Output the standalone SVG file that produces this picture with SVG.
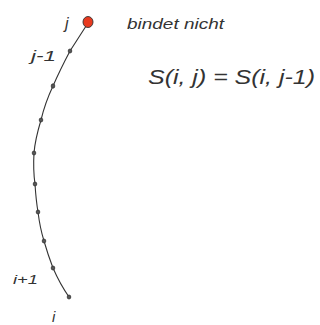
<svg xmlns="http://www.w3.org/2000/svg" width="320" height="325" viewBox="0 0 320 325">
<style>
.lbl{font-family:"Liberation Sans",Arial,sans-serif;font-style:italic;fill:#333;}
.dot{fill:#555;stroke:#333;stroke-width:0.8;}
.curve{fill:none;stroke:#333;stroke-width:1.1;}
</style>
<rect width="320" height="325" fill="#fff"/>
<g id="connectors">
<path class="curve" d="M88,23 L70,51 Q60,70 53,86 Q45,103 41,120 Q35,140 34,153 Q33,170 35,184 Q36,200 38,212 Q40,228 44,241 Q48,255 53,268 Q60,284 69,297"/>
</g>
<g id="node-j"><ellipse cx="88" cy="22" rx="5" ry="5.5" fill="#e83a1f" stroke="#333" stroke-width="0.9"/><text class="lbl" x="65" y="29" font-size="16">j</text></g>
<g id="node-j1"><ellipse class="dot" cx="70" cy="51" rx="1.8" ry="2"/><text class="lbl" x="31" y="61" font-size="15" textLength="25" lengthAdjust="spacingAndGlyphs">j-1</text></g>
<g id="node-3"><ellipse class="dot" cx="53" cy="86" rx="1.8" ry="2.2"/></g>
<g id="node-4"><ellipse class="dot" cx="41" cy="120" rx="1.8" ry="2"/></g>
<g id="node-5"><ellipse class="dot" cx="34" cy="153" rx="1.8" ry="2"/></g>
<g id="node-6"><ellipse class="dot" cx="35" cy="184" rx="1.8" ry="2"/></g>
<g id="node-7"><ellipse class="dot" cx="38" cy="212" rx="1.8" ry="2"/></g>
<g id="node-8"><ellipse class="dot" cx="44" cy="241" rx="1.8" ry="2"/></g>
<g id="node-i1"><ellipse class="dot" cx="53" cy="268" rx="1.8" ry="2"/><text class="lbl" x="13" y="284" font-size="13" textLength="25" lengthAdjust="spacingAndGlyphs">i+1</text></g>
<g id="node-i"><ellipse class="dot" cx="69" cy="297" rx="1.8" ry="2"/><text class="lbl" x="52" y="322" font-size="15">i</text></g>
<text class="lbl" x="127" y="29" font-size="15" textLength="97" lengthAdjust="spacingAndGlyphs">bindet nicht</text>
<text class="lbl" x="148" y="84" font-size="21" textLength="167" lengthAdjust="spacingAndGlyphs">S(i, j) = S(i, j-1)</text>
</svg>
